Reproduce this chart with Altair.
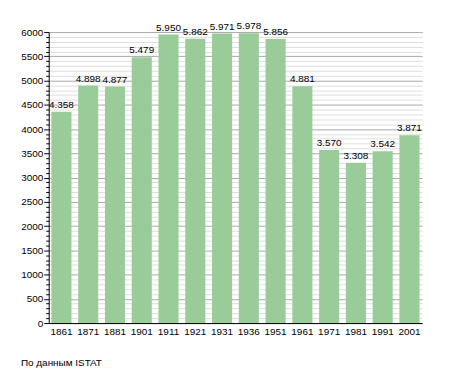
import altair as alt
import pandas as pd

years = ["1861", "1871", "1881", "1901", "1911", "1921", "1931", "1936",
         "1951", "1961", "1971", "1981", "1991", "2001"]
population = [4358, 4898, 4877, 5479, 5950, 5862, 5971, 5978,
              5856, 4881, 3570, 3308, 3542, 3871]
labels = [f"{v:,}".replace(",", ".") for v in population]

df = pd.DataFrame({"year": years, "pop": population, "label": labels})

FONT = "Liberation Sans"

x = alt.X("year:N", sort=years, title=None,
          scale=alt.Scale(paddingInner=0.25, paddingOuter=0.1),
          axis=alt.Axis(labelAngle=0, ticks=False, labelPadding=3,
                        domainColor="black", labelColor="black",
                        labelFont=FONT, labelFontSize=10, grid=False))

y = alt.Y("pop:Q", title=None,
          scale=alt.Scale(domain=[0, 6000], nice=False),
          axis=alt.Axis(values=list(range(0, 6001, 100)),
                        labelExpr="datum.value % 500 === 0 ? datum.value : ''",
                        labelFont=FONT, labelFontSize=10, labelColor="black",
                        labelPadding=1, domainColor="black",
                        tickColor="black",
                        tickSize={"condition": {"test": "datum.value % 500 === 0", "value": 5}, "value": 3},
                        grid=True,
                        gridColor={"condition": {"test": "datum.value % 500 === 0", "value": "#a8a8a8"}, "value": "#dedede"},
                        labelFlush=False, labelOverlap=False))

base = alt.Chart(df).encode(x=x, y=y)
bars = base.mark_bar(color="#99cc99")
text = base.mark_text(baseline="bottom", dy=-2, font=FONT,
                      fontSize=10, color="black").encode(text="label:N")

chart = (bars + text).properties(
    width=376, height=293,
    padding={"left": 41, "top": 23, "right": 25, "bottom": 45},
    autosize=alt.AutoSizeParams(type="none"),
    title=alt.TitleParams("По данным  ISTAT", orient="bottom", anchor="start",
                          frame="group", dx=-28, offset=22, font=FONT,
                          fontSize=10, fontWeight="normal", color="black"),
).configure_view(strokeWidth=0)

chart.save("out.html", embed_options={"renderer": "svg", "actions": False})
